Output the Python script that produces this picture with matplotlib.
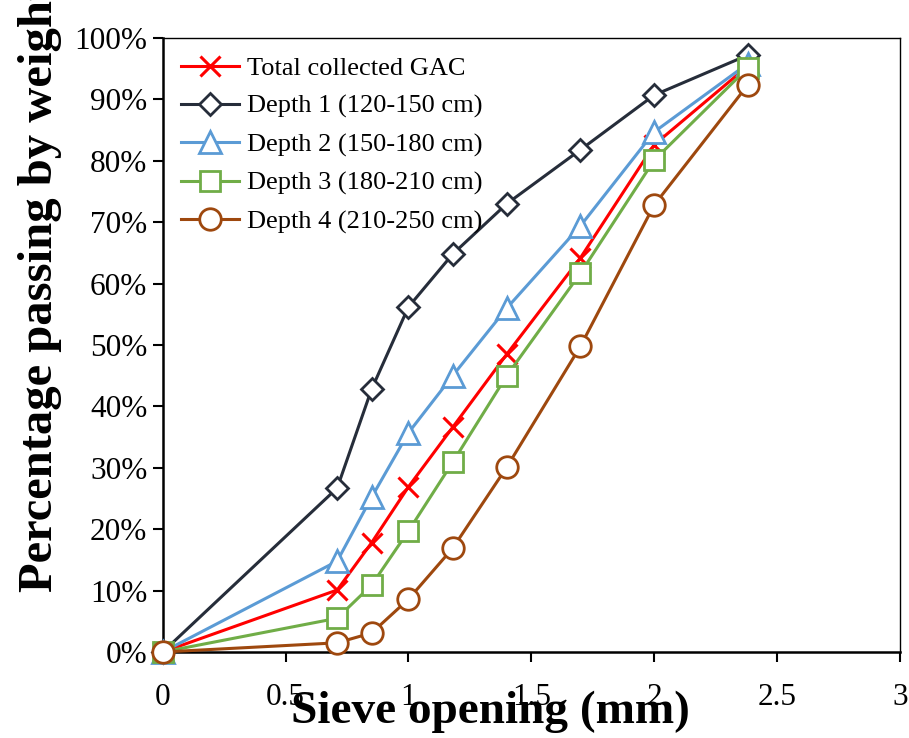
import matplotlib.pyplot as plt
from matplotlib.ticker import PercentFormatter

plt.rcParams['font.family'] = ['Liberation Serif', 'DejaVu Serif']

# Sieve openings (mm) and percentage passing
sieve = [0, 0.71, 0.85, 1.0, 1.18, 1.4, 1.7, 2.0, 2.38]
total_gac = [0, 10.1, 17.8, 26.9, 36.6, 48.5, 64.2, 82.6, 95.4]
depth1 = [0, 26.7, 42.8, 56.2, 64.8, 73.0, 81.8, 90.7, 97.2]
depth2 = [0, 14.8, 25.2, 35.7, 45.0, 56.0, 69.4, 84.7, 95.8]
depth3 = [0, 5.5, 10.9, 19.7, 30.9, 45.0, 61.7, 80.1, 95.1]
depth4 = [0, 1.5, 3.1, 8.6, 16.9, 30.1, 49.8, 72.8, 92.3]

fig = plt.figure(figsize=(9.09, 7.38), dpi=100)
ax = fig.add_axes([0.179, 0.1165, 0.811, 0.832])

ax.plot(sieve, total_gac, color='#FF0000', lw=2.2, marker='x', ms=14, mew=2.2,
        label='Total collected GAC', zorder=3, clip_on=False)
ax.plot(sieve, depth1, color='#262D3A', lw=2.2, marker='D', ms=11, mew=2,
        mfc='white', label='Depth 1 (120-150 cm)', zorder=3, clip_on=False)
ax.plot(sieve, depth2, color='#5B9BD5', lw=2.2, marker='^', ms=16, mew=2,
        mfc='white', label='Depth 2 (150-180 cm)', zorder=3, clip_on=False)
ax.plot(sieve, depth3, color='#70AD47', lw=2.2, marker='s', ms=15, mew=2,
        mfc='white', label='Depth 3 (180-210 cm)', zorder=3, clip_on=False)
ax.plot(sieve, depth4, color='#9E480E', lw=2.2, marker='o', ms=15.5, mew=2,
        mfc='white', label='Depth 4 (210-250 cm)', zorder=3, clip_on=False)

ax.set_xlim(0, 3)
ax.set_ylim(0, 100)
ax.set_xticks([0, 0.5, 1, 1.5, 2, 2.5, 3])
ax.set_xticklabels(['0', '0.5', '1', '1.5', '2', '2.5', '3'])
ax.set_yticks(range(0, 101, 10))
ax.yaxis.set_major_formatter(PercentFormatter(decimals=0))
ax.tick_params(axis='both', direction='out', length=7, width=1.5, labelsize=22.5)
ax.tick_params(axis='x', pad=15)
ax.tick_params(axis='y', pad=4)
for s in ['left', 'bottom']:
    ax.spines[s].set_linewidth(1.8)
for s in ['top', 'right']:
    ax.spines[s].set_linewidth(1.0)

ax.legend(loc='upper left', bbox_to_anchor=(0.0, 1.0), frameon=False, fontsize=19,
          handlelength=2.2, handletextpad=0.3, labelspacing=0.55, borderaxespad=0.3)

fig.text(490 / 909, 1 - 712 / 738, 'Sieve opening (mm)', ha='center', va='center',
         fontsize=34, fontweight='bold')
fig.text(40 / 909, 1 - 592 / 738, 'Percentage passing by weight', ha='center', va='bottom',
         rotation=90, fontsize=35, fontweight='bold')

fig.savefig('out.png', dpi=100)
